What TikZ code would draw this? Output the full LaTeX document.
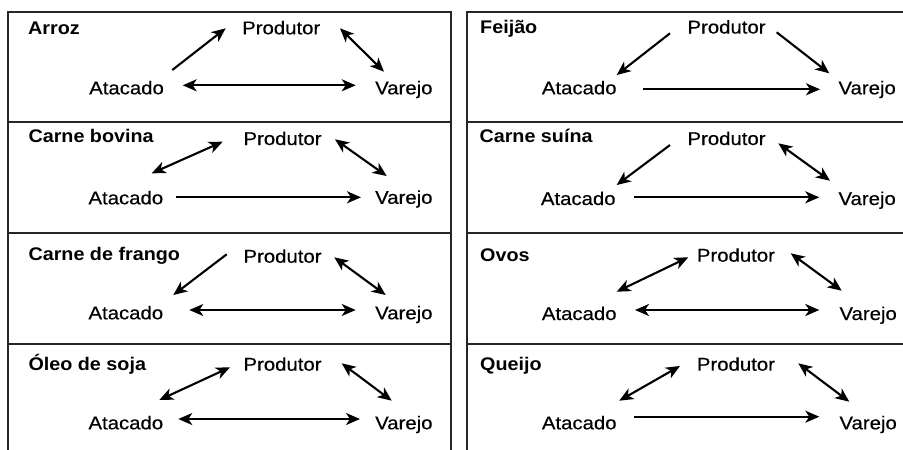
\documentclass[tikz,border=0pt]{standalone}
\usepackage{fontspec}
\setmainfont[FakeStretch=1.08]{Liberation Sans}
\newfontfamily\lblfont[FakeStretch=1.1,FakeBold=0.4]{Liberation Sans}
\usetikzlibrary{arrows.meta}
\tikzset{
  lbl/.style={inner sep=0pt, anchor=base west, font=\fontsize{18.5}{21}\lblfont},
  ttl/.style={inner sep=0pt, anchor=base west, font=\fontsize{18.3}{21}\selectfont\bfseries},
  frame/.style={line width=2pt, draw=black!85},
  arr/.style={line width=2.1pt, -{Stealth[length=14pt,width=12pt,inset=4pt]}},
  darr/.style={line width=2.1pt, {Stealth[length=14pt,width=12pt,inset=4pt]}-{Stealth[length=14pt,width=12pt,inset=4pt]}}
}
\begin{document}
\begin{tikzpicture}[x=1pt,y=-1pt]
\useasboundingbox (0,0) rectangle (903,450);
% frames
\draw[frame] (8,451) -- (8,12) -- (450.7,12) -- (450.7,451);
\draw[frame] (8,122.3) -- (450.7,122.3);
\draw[frame] (8,233) -- (450.7,233);
\draw[frame] (8,343.7) -- (450.7,343.7);
\draw[frame] (467.3,451) -- (467.3,12) -- (905,12);
\draw[frame] (467.3,122.3) -- (905,122.3);
\draw[frame] (467.3,233) -- (905,233);
\draw[frame] (467.3,343.7) -- (905,343.7);

% Box A: Arroz
\node[ttl] (tA) at (28,34) {Arroz};
\node[lbl] (pA) at (242,34.3) {Produtor};
\node[lbl] (aA) at (89,94.3) {Atacado};
\node[lbl] (vA) at (375,94.3) {Varejo};
\coordinate (A1) at (172.3,70); \coordinate (A2) at (225.7,28.3);
\coordinate (A3) at (340,28.3); \coordinate (A4) at (384,71.7);
\coordinate (A5) at (182.7,85.3); \coordinate (A6) at (355.7,85.3);
\draw[arr] (A1) -- (A2);
\draw[darr] (A3) -- (A4);
\draw[darr] (A5) -- (A6);

% Box B: Feijao
\node[ttl] (tB) at (480,33.5) {Feijão};
\node[lbl] (pB) at (687.3,33.5) {Produtor};
\node[lbl] (aB) at (541.7,94.3) {Atacado};
\node[lbl] (vB) at (838.3,94.3) {Varejo};
\coordinate (B1) at (670,33.3); \coordinate (B2) at (616.7,75);
\coordinate (B3) at (776.7,32.3); \coordinate (B4) at (829.3,73.3);
\coordinate (B5) at (643.3,89.3); \coordinate (B6) at (820,89.3);
\draw[arr] (B1) -- (B2);
\draw[arr] (B3) -- (B4);
\draw[arr] (B5) -- (B6);

% Box C: Carne bovina
\node[ttl] (tC) at (28.3,142.7) {Carne bovina};
\node[lbl] (pC) at (243.3,145) {Produtor};
\node[lbl] (aC) at (88.3,204.3) {Atacado};
\node[lbl] (vC) at (375,203.8) {Varejo};
\coordinate (C1) at (151.7,173.3); \coordinate (C2) at (222.7,141.7);
\coordinate (C3) at (335,139.3); \coordinate (C4) at (386.7,176);
\coordinate (C5) at (176,197.3); \coordinate (C6) at (361,197.3);
\draw[darr] (C1) -- (C2);
\draw[darr] (C3) -- (C4);
\draw[arr] (C5) -- (C6);

% Box D: Carne suina
\node[ttl] (tD) at (479.3,142.7) {Carne suína};
\node[lbl] (pD) at (687.3,145) {Produtor};
\node[lbl] (aD) at (540.7,205) {Atacado};
\node[lbl] (vD) at (838.3,205) {Varejo};
\coordinate (D1) at (670,145); \coordinate (D2) at (616.7,185);
\coordinate (D3) at (778.3,143.3); \coordinate (D4) at (830,180.7);
\coordinate (D5) at (634,197.3); \coordinate (D6) at (819.3,197.3);
\draw[arr] (D1) -- (D2);
\draw[darr] (D3) -- (D4);
\draw[arr] (D5) -- (D6);

% Box E: Carne de frango
\node[ttl] (tE) at (28.3,260) {Carne de frango};
\node[lbl] (pE) at (243.3,262.7) {Produtor};
\node[lbl] (aE) at (88.3,319.3) {Atacado};
\node[lbl] (vE) at (375,319.3) {Varejo};
\coordinate (E1) at (226.7,254.3); \coordinate (E2) at (173.3,295);
\coordinate (E3) at (334.3,257.3); \coordinate (E4) at (385.7,295);
\coordinate (E5) at (189.3,310); \coordinate (E6) at (355.7,310);
\draw[arr] (E1) -- (E2);
\draw[darr] (E3) -- (E4);
\draw[darr] (E5) -- (E6);

% Box F: Ovos
\node[ttl] (tF) at (480,261) {Ovos};
\node[lbl] (pF) at (696.7,261.7) {Produtor};
\node[lbl] (aF) at (541.7,320) {Atacado};
\node[lbl] (vF) at (839.3,320) {Varejo};
\coordinate (F1) at (616.7,291.7); \coordinate (F2) at (688.3,257.3);
\coordinate (F3) at (790.7,253.3); \coordinate (F4) at (841.7,290.7);
\coordinate (F5) at (635,310); \coordinate (F6) at (819.3,310);
\draw[darr] (F1) -- (F2);
\draw[darr] (F3) -- (F4);
\draw[darr] (F5) -- (F6);

% Box G: Oleo de soja
\node[ttl] (tG) at (28.3,370.7) {Óleo de soja};
\node[lbl] (pG) at (243.3,370.7) {Produtor};
\node[lbl] (aG) at (88.3,429.3) {Atacado};
\node[lbl] (vG) at (375,429.3) {Varejo};
\coordinate (G1) at (159.3,400); \coordinate (G2) at (230,367.3);
\coordinate (G3) at (341.7,363.3); \coordinate (G4) at (391.7,400.7);
\coordinate (G5) at (178.3,419); \coordinate (G6) at (360,419);
\draw[darr] (G1) -- (G2);
\draw[darr] (G3) -- (G4);
\draw[darr] (G5) -- (G6);

% Box H: Queijo
\node[ttl] (tH) at (480,370.7) {Queijo};
\node[lbl] (pH) at (696.7,370.7) {Produtor};
\node[lbl] (aH) at (541.7,429.3) {Atacado};
\node[lbl] (vH) at (839.3,429.3) {Varejo};
\coordinate (H1) at (619.3,400.7); \coordinate (H2) at (680,366);
\coordinate (H3) at (798.3,363.3); \coordinate (H4) at (849.3,401.7);
\coordinate (H5) at (634,416.7); \coordinate (H6) at (819.3,416.7);
\draw[darr] (H1) -- (H2);
\draw[darr] (H3) -- (H4);
\draw[arr] (H5) -- (H6);
\end{tikzpicture}
\end{document}
